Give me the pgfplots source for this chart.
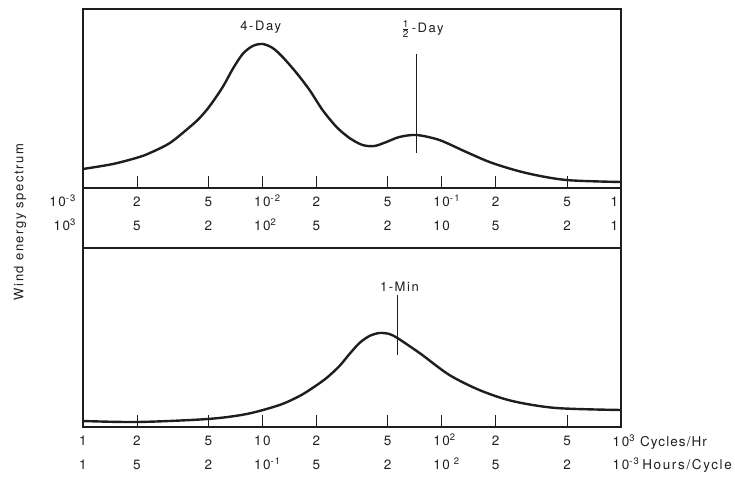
\documentclass[border=0pt]{standalone}
\usepackage{pgfplots}
\pgfplotsset{compat=1.18}
\usepackage{fontspec}
\setmainfont[LetterSpace=12]{TeX Gyre Heros}
\definecolor{ink}{HTML}{1E1E1E}
\tikzset{
  mycurve/.style={ink, line width=2.4pt, smooth, tension=0.5},
  mymark/.style={ink, line width=1.1pt},
}
\begin{document}
\begin{tikzpicture}[x=1pt,y=1pt]
\path[use as bounding box] (0pt,0pt) rectangle (735pt,476pt);
\begin{axis}[name=top, at={(83pt,288pt)}, anchor=south west,
  scale only axis, width=538pt, height=179pt,
  xmode=log, ymin=0, ymax=179, ytick=\empty,
  xtick pos=left, tick align=inside,
  major tick length=12pt, minor tick length=0pt,
  axis line style={line width=1.6pt, ink},
  every tick/.style={line width=0.9pt, ink},
  xticklabel style={align=center, inner sep=0pt, yshift=-9pt,
    font=\fontsize{13.5}{23.5}\selectfont, text=ink},
  clip=false,
  xmin=1e-3, xmax=1,
  xtick={1e-3,2e-3,5e-3,1e-2,2e-2,5e-2,1e-1,2e-1,5e-1,1},
  xticklabels={
    {\llap{10\smash{\textsuperscript{-3}}\hspace{7pt}}\\\llap{10\smash{\textsuperscript{3}}\hspace{7pt}}},
    {2\\5},{5\\2},
    {10\rlap{\smash{\textsuperscript{-2}}}\\10\rlap{\smash{\textsuperscript{2}}}},
    {2\\5},{5\\2},
    {10\rlap{\smash{\textsuperscript{-1}}}\\10},
    {2\\5},{5\\2},
    {\llap{1\hspace{3pt}}\\\llap{1\hspace{3pt}}}},
]
\addplot[mycurve] coordinates {
 (0.001,19) (0.00147,24) (0.00202,30.5) (0.00236,35) (0.003050,45) (0.003940,61)
 (0.004470,70) (0.005092,82) (0.006014,101) (0.006838,119) (0.007771,134) (0.008835,142)
 (0.010042,144) (0.011416,140) (0.012976,131) (0.015524,115) (0.018337,98)
 (0.021668,78) (0.025925,61) (0.030624,50) (0.036175,43) (0.042187,42)
 (0.049204,46) (0.058130,51) (0.07228,53) (0.09705,48) (0.1371,36)
 (0.1914,25) (0.2958,15) (0.4943,8) (1,6)};
\addplot[mymark] coordinates {(0.0723,35) (0.0723,134)};
\node[text=ink, font=\fontsize{13}{15}\selectfont] at (axis cs:0.0098,161) {4-Day};
\node[text=ink, anchor=west, inner sep=0pt, font=\fontsize{13}{15}\selectfont] at (axis cs:0.0597,159)
  {$\frac{\mbox{\fontsize{10}{10}\selectfont 1}}{\mbox{\fontsize{10}{10}\selectfont 2}}$\,-Day};
\end{axis}
\begin{axis}[name=bottom, at={(83pt,49pt)}, anchor=south west,
  scale only axis, width=538pt, height=179pt,
  xmode=log, ymin=0, ymax=179, ytick=\empty,
  xtick pos=left, tick align=inside,
  major tick length=12pt, minor tick length=0pt,
  axis line style={line width=1.6pt, ink},
  every tick/.style={line width=0.9pt, ink},
  xticklabel style={align=center, inner sep=0pt, yshift=-9pt,
    font=\fontsize{13.5}{23.5}\selectfont, text=ink},
  clip=false,
  xmin=1, xmax=1000,
  xtick={1,2,5,10,20,50,100,200,500,1000},
  xticklabels={
    {1\\1},{2\\5},{5\\2},
    {10\\10\rlap{\smash{\textsuperscript{-1}}}},
    {2\\5},{5\\2},
    {10\rlap{\smash{\textsuperscript{2}}}\\10\rlap{\smash{\textsuperscript{ 2}}}},
    {2\\5},{5\\2},
    {10\rlap{\smash{\textsuperscript{3}}\hspace{5pt}\addfontfeature{LetterSpace=8}Cycles/Hr}\\10\rlap{\smash{\textsuperscript{-3}}\hspace{3pt}\addfontfeature{LetterSpace=12}Hours/Cycle}}},
]
\addplot[mycurve] coordinates {
 (1,6) (2.023,5) (4.966,8) (8.185,13) (12.47,22) (16.13,31) (19.05,39)
 (22.80,49) (26.92,61) (30.62,73) (34.81,84) (39.57,91) (44.98,94)
 (51.13,93) (56.62,89) (66.07,81) (77.98,72) (110.4,52) (162.2,37)
 (247.2,26) (434.5,19) (1000,17)};
\addplot[mymark] coordinates {(56.6,72) (56.6,132)};
\node[text=ink, font=\fontsize{13}{15}\selectfont] at (axis cs:58.1,140) {1-Min};
\end{axis}
\draw[ink, line width=1.6pt] (top.south west) -- (bottom.north west);
\draw[ink, line width=1.6pt] (top.south east) -- (bottom.north east);
\node[rotate=90, text=ink, font=\fontsize{13}{15}\selectfont] at (20pt,254pt) {Wind energy spectrum};
\end{tikzpicture}
\end{document}
